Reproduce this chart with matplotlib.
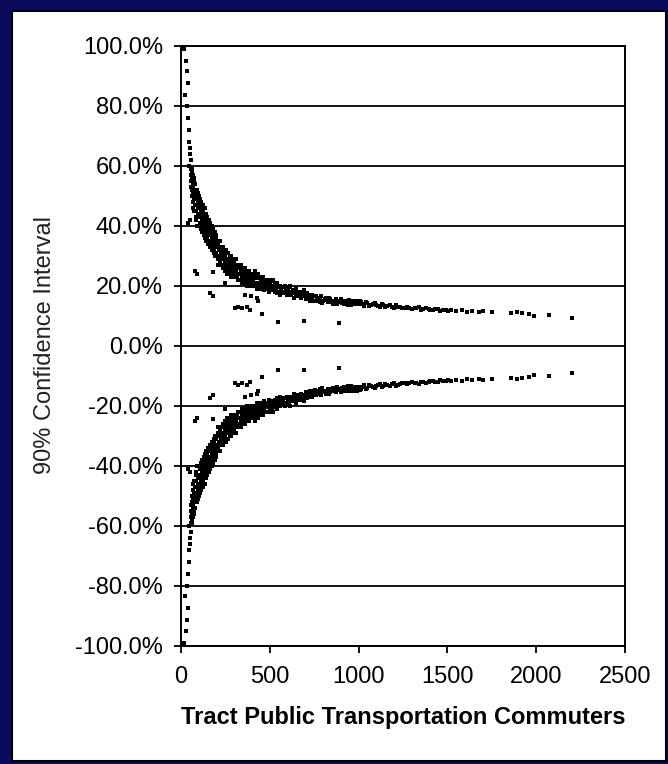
import matplotlib
matplotlib.use("Agg")
import matplotlib.pyplot as plt
from matplotlib.patches import Rectangle
from matplotlib.ticker import FuncFormatter

# ---- tract data: commuters vs 90% CI half-width (%) ----
x_low = [4, 8, 12, 16, 28, 33, 38, 22, 35, 40, 44, 46, 50, 52, 58, 45, 55, 40, 51]
moe_low = [100, 100, 100, 99, 95, 91.5, 87.5, 83.5, 80, 76, 72, 68, 66, 64, 62, 60, 59, 41, 42]

x_50 = [60, 62, 65, 68, 70, 72, 75, 78, 80, 82, 85, 88, 90, 92, 95, 98, 100,
        64, 70, 76, 82, 58, 66, 86, 92, 79, 90,
        54, 57, 61, 63, 67, 69, 73, 74, 77, 81, 84, 87, 89, 94, 96, 99]
moe_50 = [58, 56, 55, 57, 53, 55, 52, 50, 54, 51, 49, 52, 47, 50, 48, 46, 49,
          50, 48, 45, 43, 53, 46, 42, 40, 25, 24,
          57, 55, 52, 59, 51, 54, 49, 56, 47, 47, 52, 45, 50, 44, 51, 43]

x_100 = [102, 104, 106, 108, 110, 112, 114, 116, 118, 120,
         122, 124, 126, 128, 130, 132, 134, 136, 138, 140,
         142, 144, 146, 148, 150, 152, 155, 158, 160, 162,
         165, 168, 170, 172, 175, 178, 180, 182, 185, 188,
         190, 192, 195, 198, 200, 165, 178, 180,
         103, 107, 111, 113, 117, 119, 121, 125, 127, 131,
         133, 137, 139, 143, 147, 149, 153, 156, 159, 163,
         166, 169, 173, 176, 179, 183, 186, 189, 193, 196, 199]
moe_100 = [50, 44, 47, 41, 48, 43, 46, 40, 45, 42,
           47, 39, 44, 41, 46, 38, 43, 40, 44, 37,
           42, 39, 43, 36, 41, 38, 42, 35, 40, 37,
           41, 34, 39, 36, 40, 33, 38, 35, 37, 32,
           36, 34, 37, 31, 35, 17.5, 16.5, 24.5,
           46, 49, 45, 39, 43, 47, 38, 45, 37, 42,
           46, 36, 41, 35, 40, 43, 34, 39, 41, 33,
           38, 40, 32, 37, 39, 31, 35, 38, 30, 33, 36]

x_200 = [205, 208, 210, 213, 216, 219, 222, 225, 228, 231,
         234, 237, 240, 243, 246, 249, 252, 255, 258, 261,
         264, 267, 270, 273, 276, 279, 282, 285, 288, 291,
         294, 297, 300, 305, 310, 315, 320, 325, 330, 335,
         340, 345, 350, 355, 360, 365, 370, 375, 380, 385,
         390, 395, 400,
         250, 305, 322, 345, 370, 390, 360, 395,
         203, 206, 211, 214, 217, 221, 224, 227, 232, 236,
         239, 244, 247, 251, 254, 257, 262, 266, 269, 272,
         277, 281, 284, 289, 293, 296, 302, 307, 312, 317,
         323, 328, 333, 338, 343, 348, 353, 358, 363, 368,
         373, 378, 383, 388, 393, 398]
moe_200 = [33, 29, 34, 30, 32, 28, 33, 30, 31, 27,
           32, 29, 31, 27, 30, 28, 32, 26, 29, 27,
           31, 25, 28, 26, 30, 25, 28, 26, 29, 24,
           27, 25, 28, 24, 27, 23, 26, 24, 27, 22,
           25, 23, 26, 22, 24, 22, 25, 21, 24, 22,
           23, 21, 24,
           21, 12.5, 13, 12.5, 13, 12, 17, 16.5,
           30, 35, 27, 33, 29, 35, 27, 32, 29, 26,
           33, 30, 25, 29, 31, 24, 29, 31, 27, 24,
           27, 30, 23, 27, 29, 23, 26, 29, 25, 27,
           22, 26, 24, 27, 21, 25, 24, 21, 26, 23,
           20, 23, 25, 20, 24, 22]

x_400 = [405, 410, 415, 420, 425, 430, 440, 445, 450, 460,
         465, 470, 480, 485, 490, 500, 505, 510, 520, 530,
         535, 540, 550, 560, 565, 570, 580, 590, 600, 610,
         620, 630, 640, 650, 660, 670, 680, 690, 700,
         430, 435, 457, 545, 695,
         408, 413, 418, 423, 428, 435, 438, 443, 448, 455,
         458, 463, 468, 475, 478, 488, 495, 498, 508, 515,
         518, 525, 528, 538, 545, 555, 558, 575, 585, 595,
         605, 615, 625, 635, 645, 655, 665, 675, 685, 695]
moe_400 = [22, 24, 21, 23, 20.5, 22.5, 21, 23, 20, 22,
           19.5, 21.5, 20, 22, 19, 21, 19.5, 21.5, 18.5, 20.5,
           19, 21, 18, 20, 18.5, 19.5, 17.5, 19, 18, 19.5,
           17, 18.5, 17.5, 19, 16.5, 18, 17, 18.5, 16.5,
           16, 15, 10.5, 8, 8.3,
           20, 23, 25, 21, 19, 24, 20, 19, 22, 21,
           19, 23, 18.5, 20.5, 22, 20.5, 22, 18, 20, 19,
           22, 20, 18, 17.5, 20, 19.5, 17, 18, 20, 17,
           18.5, 20, 18, 16, 17, 18, 17.5, 16, 18, 17]

x_700 = [710, 720, 730, 740, 750, 760, 770, 780, 790, 800,
         815, 830, 840, 855, 870, 885, 900, 915, 930, 945,
         960, 975, 990, 1000, 1015, 1030, 1050, 1070, 1090, 887,
         705, 715, 725, 735, 745, 755, 765, 775, 785, 795,
         808, 822, 835, 848, 862, 878, 892, 908, 922, 938,
         952, 968, 982, 995, 1008, 1022, 1040, 1060, 1080, 1100,
         1120, 1140, 1160, 1190, 1210, 1235, 1260, 1285, 1315, 1340,
         1365, 1395, 1420, 1445, 1475, 1505]
moe_700 = [17.5, 15.5, 17, 16, 15, 16.5, 15.5, 14.5, 16.5, 15,
           16, 14.5, 15.5, 14, 15.5, 14.5, 15.5, 13.8, 14.8, 15.2,
           13.5, 14.5, 15, 13.8, 14.5, 13.2, 14.2, 13.5, 14.2, 7.5,
           15.5, 16.5, 15, 17, 16.5, 14.8, 16, 15, 15.8, 14.2,
           15.5, 15.2, 16, 14.5, 15, 13.8, 14.8, 14.2, 15, 13.6,
           14.2, 15, 13.8, 14.4, 14.8, 13.8, 14.6, 13.2, 13.8, 13.4,
           12.8, 13.4, 13.2, 12.8, 13.4, 12.8, 12.4, 12.6, 12.4, 12.8,
           12.2, 12.3, 11.8, 12.2, 11.8, 11.6]

x_1100 = [1110, 1130, 1150, 1175, 1200, 1220, 1245, 1270, 1300, 1325, 1350, 1380, 1400, 1430, 1460, 1490,
          1520, 1550, 1580, 1610, 1640, 1680, 1700, 1750, 1860, 1890, 1920, 1960, 1985, 2070, 2200]
moe_1100 = [13.2, 13.8, 12.8, 13.4, 12.6, 13, 12.4, 12.9, 12.2, 12.6, 12, 12.4, 11.8, 12.1, 11.6, 11.9,
            11.7, 11.4, 11.8, 11.3, 11.5, 11.2, 11.4, 11.2, 10.9, 11.1, 10.8, 10.6, 9.8, 10.3, 9.2]

commuters = x_low + x_50 + x_100 + x_200 + x_400 + x_700 + x_1100
moe = moe_low + moe_50 + moe_100 + moe_200 + moe_400 + moe_700 + moe_1100

y_ticks = list(range(-100, 101, 20))
x_ticks = [0, 500, 1000, 1500, 2000, 2500]

# ---- Plotting ----
plt.rcParams['font.family'] = ['Liberation Sans', 'DejaVu Sans']

W, H = 668, 764
fig = plt.figure(figsize=(W / 100, H / 100), dpi=100)
fig.patch.set_facecolor('#0b0b5c')

# white slide panel inside the navy frame
panel = Rectangle((12 / W, 3 / H), (W - 14) / W, (H - 14) / H, transform=fig.transFigure,
                  facecolor='white', edgecolor='black', linewidth=1.5, zorder=-5)
fig.add_artist(panel)

ax = fig.add_axes([181 / W, 1 - 645.5 / H, 444 / W, 600 / H])
ax.set_zorder(2)
ax.set_facecolor('white')

ax.plot(commuters, moe, linestyle='none', marker='s', markersize=3.0,
        markeredgewidth=0, color='black')
ax.plot(commuters, [-m for m in moe], linestyle='none', marker='s', markersize=3.0,
        markeredgewidth=0, color='black')

ax.set_xlim(0, 2500)
ax.set_ylim(-100, 100)
ax.set_yticks(y_ticks)
ax.set_xticks(x_ticks)
ax.yaxis.set_major_formatter(FuncFormatter(lambda v, p: f"{v:.1f}%"))
ax.yaxis.grid(True, color='black', linewidth=1.3)
ax.set_axisbelow(True)

for s in ax.spines.values():
    s.set_linewidth(1.4)
    s.set_color('black')

ax.tick_params(axis='both', direction='out', length=5, width=1.3, colors='black',
               labelsize=17)
ax.tick_params(axis='y', pad=8)
ax.tick_params(axis='x', pad=10)

ax.set_ylabel("90% Confidence Interval", fontsize=17, color='#222222', labelpad=14)
ax.set_xlabel("Tract Public Transportation Commuters", fontsize=17, fontweight='bold',
              labelpad=13)

fig.savefig("out.png", dpi=100, facecolor=fig.get_facecolor())
